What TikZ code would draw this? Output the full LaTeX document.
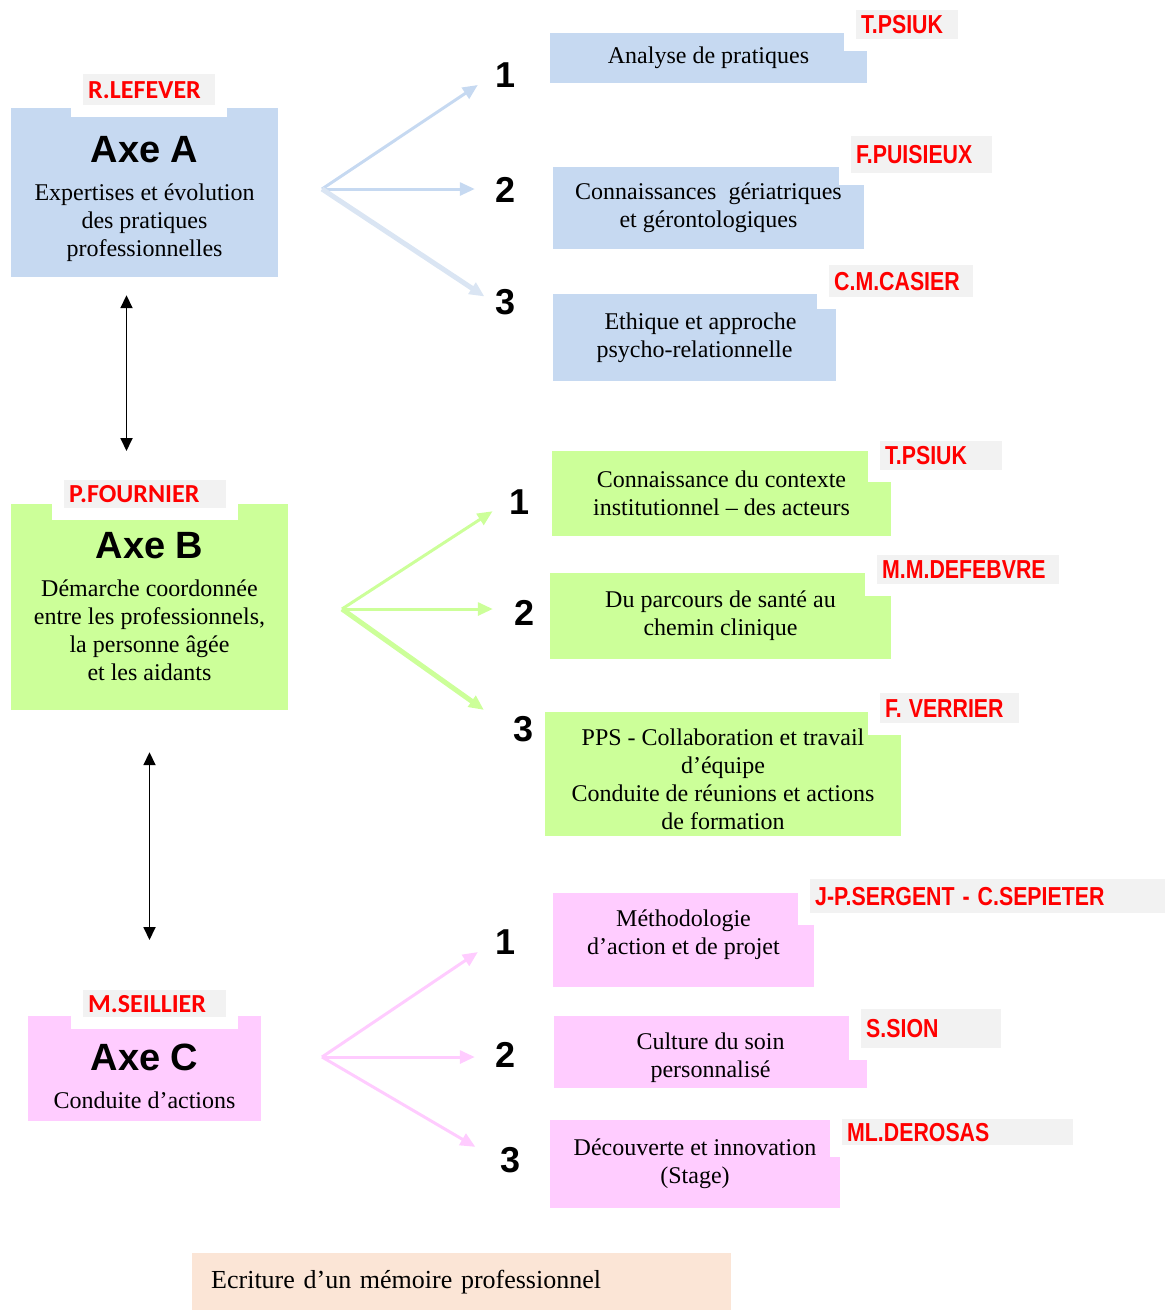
\documentclass[tikz,border=0pt]{standalone}
\usepackage{fontspec}
\usetikzlibrary{arrows.meta}
\setmainfont{Liberation Serif}
\newfontfamily\headfont{Liberation Sans}
\newfontfamily\narrowfont{Liberation Sans}[FakeStretch=0.82]
\newfontfamily\calfont{Carlito}
\definecolor{axeblue}{HTML}{C6D9F1}
\definecolor{axegreen}{HTML}{CCFF99}
\definecolor{axepink}{HTML}{FFCCFF}
\definecolor{tagbg}{HTML}{F2F2F2}
\definecolor{tagred}{HTML}{FF0000}
\definecolor{peach}{HTML}{FBE5D6}
\definecolor{fanblue}{HTML}{C6D9F1}
\definecolor{fanbluelight}{HTML}{DAE5F3}

\begin{document}
\begin{tikzpicture}[x=1pt, y=-1pt,
    box/.style={inner sep=0pt, align=center, font=\fontsize{24}{28}\selectfont},
    tag/.style={anchor=north west, fill=tagbg, preaction={draw=white, line width=24pt},
        text=tagred, inner xsep=5pt, inner ysep=0pt, align=left},
    axetag/.style={tag, font=\calfont\bfseries\fontsize{26}{28}\selectfont},
    subtag/.style={tag, font=\narrowfont\bfseries\fontsize{26}{28}\selectfont},
    num/.style={font=\headfont\bfseries\fontsize{36}{36}\selectfont, inner sep=3pt},
    fan/.style={-{Triangle[length=15pt,width=13pt]}, line width=3pt, shorten >=18pt},
    link/.style={{Triangle[length=13pt,width=12pt]}-{Triangle[length=13pt,width=12pt]}, line width=1.8pt}]
    \useasboundingbox (0,0) rectangle (1165,1310);
    \newcommand{\axetitle}[2][0pt]{{\headfont\bfseries\fontsize{38}{44}\selectfont\rule{0pt}{#1}#2}\\[10pt]}

    % axes
    \node[box, fill=axeblue, minimum width=267pt, minimum height=169pt] (axeA) at (144.5,192.5)
        {\axetitle[40pt]{Axe A}Expertises et évolution\\des pratiques\\professionnelles};
    \node[box, fill=axegreen, minimum width=277pt, minimum height=206pt] (axeB) at (149.5,607)
        {\axetitle{Axe B}Démarche coordonnée\\entre les professionnels,\\la personne âgée\\et les aidants};
    \node[box, fill=axepink, minimum width=233pt, minimum height=105pt] (axeC) at (144.5,1068.5)
        {\axetitle[42pt]{Axe C}Conduite d’actions};

    % sub themes
    \begin{scope}[every node/.style={box}]
        \node[fill=axeblue, minimum width=317pt, minimum height=50pt] (a1) at (708.5,58) {Analyse de pratiques};
        \node[fill=axeblue, minimum width=311pt, minimum height=82pt] (a2) at (708.5,208) {Connaissances~ gériatriques\\et gérontologiques};
        \node[fill=axeblue, minimum width=283pt, minimum height=87pt] (a3) at (694.5,337.5) {~~Ethique et approche\\psycho-relationnelle};
        \node[fill=axegreen, minimum width=339pt, minimum height=85pt] (b1) at (721.5,493.5) {Connaissance du contexte\\institutionnel -- des acteurs};
        \node[fill=axegreen, minimum width=341pt, minimum height=86pt] (b2) at (720.5,616) {Du parcours de santé au\\chemin clinique};
        \node[fill=axegreen, minimum width=356pt, minimum height=124pt] (b3) at (723,774) {\rule{0pt}{27pt}PPS - Collaboration et travail\\d’équipe\\Conduite de réunions et actions\\de formation};
        \node[fill=axepink, minimum width=261pt, minimum height=94pt] (c1) at (683.5,940) {Méthodologie\\d’action et de projet\\[-12pt]};
        \node[fill=axepink, minimum width=313pt, minimum height=72pt] (c2) at (710.5,1052) {\rule{0pt}{29pt}Culture du soin\\personnalisé};
        \node[fill=axepink, minimum width=290pt, minimum height=88pt] (c3) at (695,1164) {Découverte et innovation\\(Stage)};
        \node[fill=peach, anchor=north west, minimum width=539pt, minimum height=57pt, text width=501pt, inner xsep=19pt, align=left,
            font=\fontsize{26}{30}\selectfont] (memo) at (192,1253) {Ecriture d’un mémoire professionnel};
    \end{scope}

    % names
    \node[axetag, text width=122pt, minimum height=31pt] (tagA) at (83,74) {R.LEFEVER};
    \node[axetag, text width=152pt, minimum height=28pt] (tagB) at (64,480) {P.FOURNIER};
    \node[axetag, text width=133pt, minimum height=27pt] (tagC) at (83,990) {M.SEILLIER};
    \node[subtag, text width=92pt, minimum height=29pt] (tagA1) at (856,10) {T.PSIUK};
    \node[subtag, text width=131pt, minimum height=37pt] (tagA2) at (851,136) {F.PUISIEUX};
    \node[subtag, text width=134pt, minimum height=32pt] (tagA3) at (829,265) {C.M.CASIER};
    \node[subtag, text width=112pt, minimum height=29pt] (tagB1) at (880,441) {T.PSIUK};
    \node[subtag, text width=172pt, minimum height=29pt] (tagB2) at (877,555) {M.M.DEFEBVRE};
    \node[subtag, text width=129pt, minimum height=30pt] (tagB3) at (880,693) {F.\hspace{7pt}VERRIER};
    \node[subtag, text width=345pt, minimum height=34pt] (tagC1) at (810,879) {J-P.SERGENT\hspace{8pt}-\hspace{8pt}C.SEPIETER};
    \node[subtag, text width=130pt, minimum height=39pt] (tagC2) at (861,1009) {S.SION};
    \node[subtag, text width=221pt, minimum height=26pt] (tagC3) at (842,1119) {ML.DEROSAS};

    % numbers
    \node[num] (na1) at (506,75) {1};
    \node[num] (na2) at (506,190) {2};
    \node[num] (na3) at (506,302) {3};
    \node[num] (nb1) at (520,502) {1};
    \node[num] (nb2) at (525,613) {2};
    \node[num] (nb3) at (524,729) {3};
    \node[num] (nc1) at (506,942) {1};
    \node[num] (nc2) at (506,1055) {2};
    \node[num] (nc3) at (511,1160) {3};

    \coordinate (srcA) at (322,189);
    \coordinate (srcB) at (342,609);
    \coordinate (srcC) at (322,1057);

    % fans
    \draw[fan, fanblue] (srcA) -- (na1.west);
    \draw[fan, fanblue] (srcA) -- (srcA -| na2.west);
    \draw[fan, fanbluelight, line width=5pt, shorten >=10pt] (srcA) -- (na3.west);
    \draw[fan, axegreen, shorten >=17pt] (srcB) -- (nb1.west);
    \draw[fan, axegreen, shorten >=19pt] (srcB) -- (srcB -| nb2.west);
    \draw[fan, axegreen, line width=5pt, shorten >=33pt] (srcB) -- (nb3.west);
    \draw[fan, axepink] (srcC) -- (nc1.west);
    \draw[fan, axepink] (srcC) -- (srcC -| nc2.west);
    \draw[fan, axepink, shorten >=26pt] (srcC) -- (nc3.west);

    % links between axes
    \draw[link, shorten <=18pt, shorten >=29pt] ([xshift=-18pt]axeA.south) -- ([xshift=-18pt]axeA.south |- tagB.north);
    \draw[link, shorten <=42pt, shorten >=50pt] (axeB.south) -- (axeB.south |- tagC.north);
\end{tikzpicture}
\end{document}
